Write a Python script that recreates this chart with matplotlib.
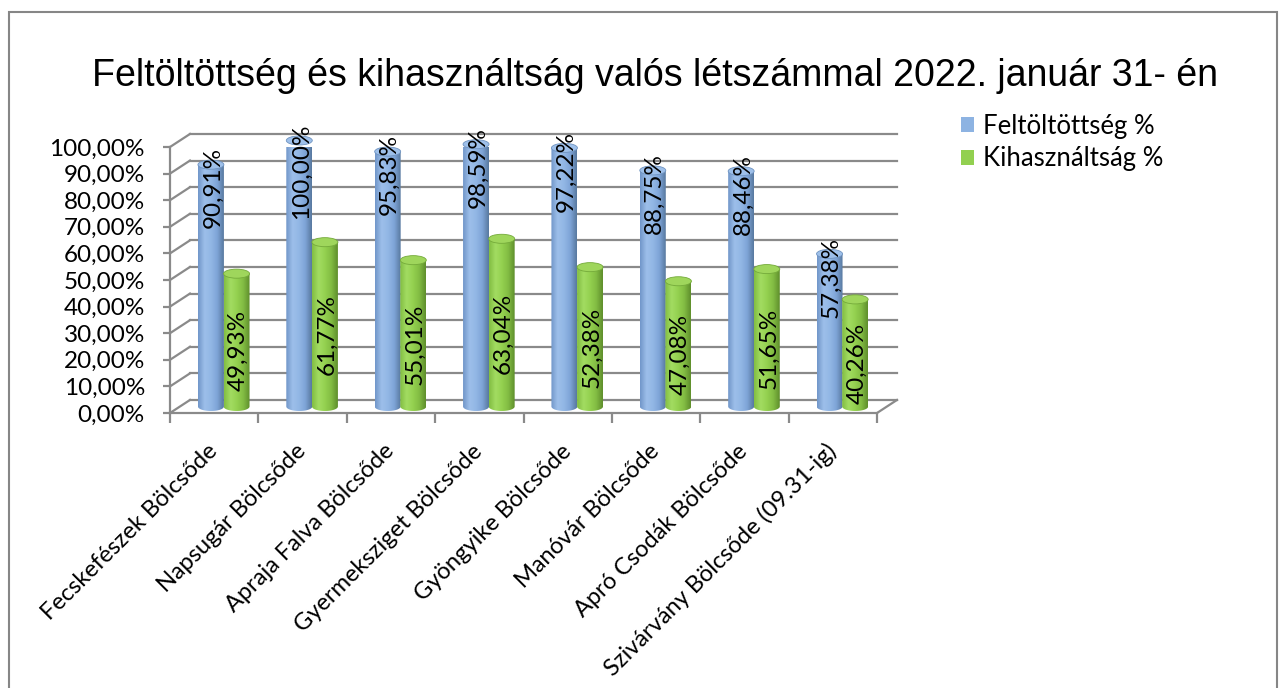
import numpy as np
import matplotlib
matplotlib.use("Agg")
import matplotlib.pyplot as plt
from matplotlib.patches import Ellipse, Rectangle, Patch, PathPatch
from matplotlib.path import Path
from matplotlib.colors import LinearSegmentedColormap

categories = [
    "Fecskefészek Bölcsőde",
    "Napsugár Bölcsőde",
    "Apraja Falva Bölcsőde",
    "Gyermeksziget Bölcsőde",
    "Gyöngyike Bölcsőde",
    "Manóvár Bölcsőde",
    "Apró Csodák Bölcsőde",
    "Szivárvány Bölcsőde (09.31-ig)",
]
feltoltottseg = [90.91, 100.00, 95.83, 98.59, 97.22, 88.75, 88.46, 57.38]
kihasznaltsag = [49.93, 61.77, 55.01, 63.04, 52.38, 47.08, 51.65, 40.26]
series_names = ["Feltöltöttség %", "Kihasználtság %"]
title = "Feltöltöttség és kihasználtság valós létszámmal 2022. január 31- én"
y_ticks = list(range(0, 101, 10))

FONT = "Lato"
FS = 17.5
GRID = "#8a8a8a"

# fake 3D depth (in data units): full wall depth and bar depth (half)
DX, DY = 0.226, 4.9
DXm, DYm = DX / 2, DY / 2
BAR_W = 0.294
ELL_H = 3.4

blue_grad = LinearSegmentedColormap.from_list(
    "b", ["#7196c9", "#9dbfea", "#92b7e5", "#7ea4d7", "#58799f"])
green_grad = LinearSegmentedColormap.from_list(
    "g", ["#82bd42", "#a3dc62", "#94d150", "#82bc43", "#5f8f2c"])
blue_top = "#9ec0ea"
green_top = "#9fd65c"


def pct(v):
    return f"{v:.2f}%".replace(".", ",")


def cylinder(ax, xc, h, cmap, top_color, z):
    x0, x1 = xc - BAR_W / 2, xc + BAR_W / 2
    y0 = DYm
    top = DYm + h
    # outline: rect + lower half ellipse
    t = np.linspace(0, np.pi, 40)
    arc = np.column_stack([xc + BAR_W / 2 * np.cos(t), y0 - ELL_H / 2 * np.sin(t)])
    verts = np.vstack([[x0, top], [x1, top], [x1, y0], arc, [x0, top]])
    codes = [Path.MOVETO] + [Path.LINETO] * (len(verts) - 2) + [Path.CLOSEPOLY]
    outline = PathPatch(Path(verts, codes), facecolor="none", edgecolor="none",
                        clip_on=False)
    ax.add_patch(outline)
    grad = np.linspace(0, 1, 64)[np.newaxis, :]
    im = ax.imshow(grad, cmap=cmap, extent=[x0, x1, y0 - ELL_H, top],
                   aspect="auto", zorder=z, interpolation="bicubic")
    im.set_clip_path(outline)
    ax.add_patch(Ellipse((xc, top), BAR_W, ELL_H, facecolor=top_color,
                         edgecolor=cmap(0.85), lw=0.6, zorder=z + 0.1,
                         clip_on=False))


fig = plt.figure(figsize=(12.87, 6.88), dpi=100)
ax = fig.add_axes([170 / 1287, 1 - 413 / 688, 707 / 1287, 266 / 688])

# walls: back gridlines, side slants, floor
for v in y_ticks:
    ax.plot([DX, 8 + DX], [v + DY, v + DY], color=GRID, lw=1.6, zorder=1,
            clip_on=False)
    ax.plot([0, DX], [v, v + DY], color=GRID, lw=1.6, zorder=1, clip_on=False)
ax.plot([8, 8 + DX], [0, DY], color=GRID, lw=1.6, zorder=1, clip_on=False)

n = len(categories)
for i in range(n):
    xb = i + 0.35 + DXm
    xg = i + 0.64 + DXm
    cylinder(ax, xb, feltoltottseg[i], blue_grad, blue_top, 3)
    cylinder(ax, xg, kihasznaltsag[i], green_grad, green_top, 4)
    ax.text(xb + 0.02, feltoltottseg[i] + 9, pct(feltoltottseg[i]), rotation=90,
            rotation_mode="anchor", ha="right", va="center", fontsize=FS,
            family=FONT, zorder=8, clip_on=False)
    ax.text(xg + 0.02, kihasznaltsag[i] / 2 - 1.5, pct(kihasznaltsag[i]),
            rotation=90, rotation_mode="anchor", ha="center", va="center",
            fontsize=FS, family=FONT, zorder=8, clip_on=False)

ax.set_xlim(0, 8)
ax.set_ylim(0, 100)
for s in ["top", "right"]:
    ax.spines[s].set_visible(False)
for s in ["left", "bottom"]:
    ax.spines[s].set_color(GRID)
    ax.spines[s].set_linewidth(1.6)
ax.set_facecolor("none")

ax.set_yticks(y_ticks)
ax.set_yticklabels([pct(v) for v in y_ticks], family=FONT, fontsize=FS)
ax.tick_params(axis="y", length=5, width=1.6, color=GRID, pad=13)

ax.set_xticks(range(n + 1))
ax.set_xticklabels([])
ax.tick_params(axis="x", which="major", length=7, width=1.6, color=GRID)
ax.set_xticks(np.arange(n) + 0.5, minor=True)
ax.set_xticklabels(categories, minor=True, rotation=45, rotation_mode="anchor",
                   ha="right", va="center", family=FONT, fontsize=17)
ax.tick_params(axis="x", which="minor", length=0, pad=25)

fig.text(655 / 1287, 1 - 76 / 688, title, ha="center", va="center",
         family="Liberation Sans", fontsize=27)

handles = [Patch(facecolor="#8db3e2", edgecolor="none"),
           Patch(facecolor="#92d050", edgecolor="none")]
fig.legend(handles, series_names, loc="upper left",
           bbox_to_anchor=(961 / 1287, 1 - 114 / 688), frameon=False,
           prop={"family": FONT, "size": 18.5}, handlelength=0.52,
           handleheight=0.52, handletextpad=0.32, labelspacing=0.28,
           borderpad=0, borderaxespad=0)

fig.patches.append(Rectangle((9 / 1287, -0.1), 1268 / 1287, 1.1 - 12 / 688,
                             transform=fig.transFigure, fill=False,
                             edgecolor="#868686", lw=1.5))

fig.savefig("out.png", dpi=100)
